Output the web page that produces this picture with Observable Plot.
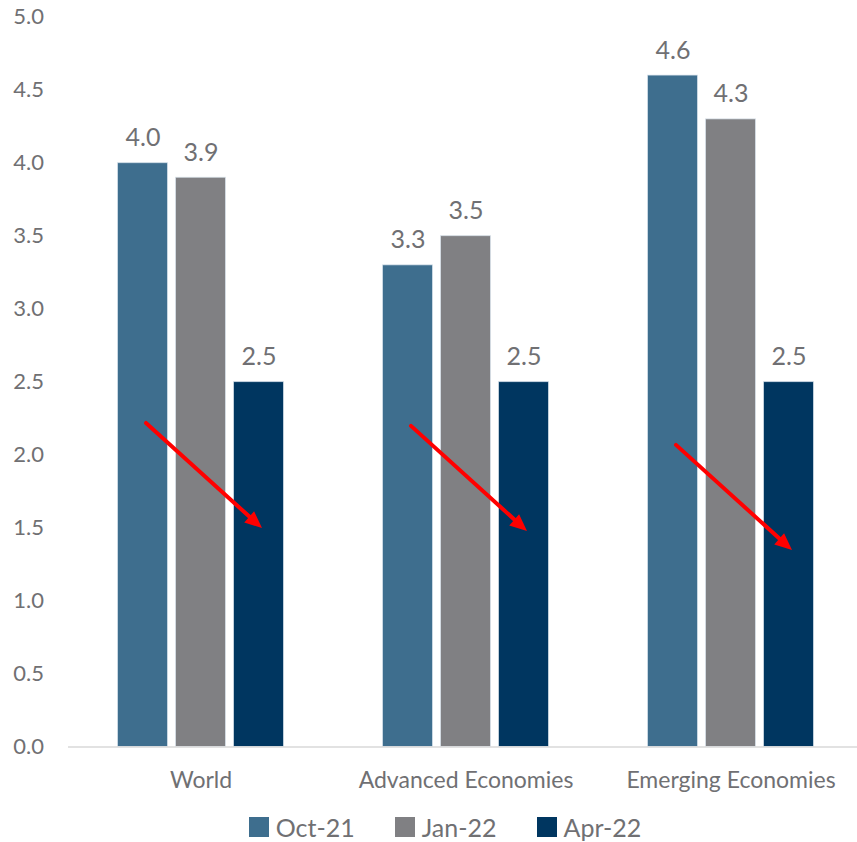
<!DOCTYPE html>
<html>
<head>
<meta charset="utf-8">
<script src="https://cdn.jsdelivr.net/npm/d3@7"></script>
<script src="https://cdn.jsdelivr.net/npm/@observablehq/plot@0.6"></script>
<style>
  html, body { margin: 0; padding: 0; background: #fff; overflow: hidden; }
  body { width: 857px; height: 842px; font-family: Lato, "Open Sans", sans-serif; }
  #legend { display: flex; justify-content: center; align-items: center; margin-top: 8px; padding-left: 33px; height: 28px; color: #707073; font-size: 25px; }
  .item { display: flex; align-items: center; margin: 0 20px; }
  .sw { width: 20px; height: 20px; margin-right: 7px; }
</style>
</head>
<body>
<div id="chart"></div>
<div id="legend"></div>
<script>
const groups = ["World", "Advanced Economies", "Emerging Economies"];
const series = ["Oct-21", "Jan-22", "Apr-22"];
const oct21 = [4.0, 3.3, 4.6];
const jan22 = [3.9, 3.5, 4.3];
const apr22 = [2.5, 2.5, 2.5];
const colors = ["#3E6E8E", "#808083", "#003660"];
const arrowFrom = [2.22, 2.20, 2.07];
const arrowTo = [1.50, 1.48, 1.35];
const yTicks = [0, 0.5, 1, 1.5, 2, 2.5, 3, 3.5, 4, 4.5, 5];

const seriesValues = [oct21, jan22, apr22];
const data = [];
groups.forEach((g, gi) => series.forEach((s, si) => data.push({group: g, series: s, value: seriesValues[si][gi]})));
const arrows = groups.map((g, i) => ({group: g, from: arrowFrom[i], to: arrowTo[i]}));

const textColor = "#707073";
const chart = Plot.plot({
  width: 857,
  height: 805,
  marginTop: 16.7,
  marginBottom: 58.5,
  marginLeft: 67.5,
  marginRight: 0,
  style: {fontFamily: "Lato, 'Open Sans', sans-serif", color: textColor, background: "#fff"},
  fx: {domain: groups, padding: 0, range: [67.5, 862.5], label: null},
  x: {domain: series, paddingInner: 0.14, paddingOuter: 0.854, axis: null},
  y: {domain: [0, 5], label: null},
  color: {domain: series, range: colors},
  marks: [
    Plot.axisY({ticks: yTicks, tickFormat: d => d.toFixed(1), tickSize: 0, tickPadding: 24.5, fontSize: 22, fill: textColor, label: null}),
    Plot.axisFx({anchor: "bottom", tickSize: 0, tickPadding: 25, fontSize: 23, fill: textColor, label: null}),
    Plot.barY(data, {fx: "group", x: "series", y: "value", fill: "series", stroke: "#dbe5ee", strokeWidth: 1, strokeOpacity: 0.7}),
    Plot.ruleY([0], {stroke: "#d9d9d9", strokeWidth: 1.5}),
    Plot.text(data, {fx: "group", x: "series", y: "value", text: d => d.value.toFixed(1), dy: -25, fontSize: 25, fill: textColor}),
    Plot.arrow(arrows, {fx: "group", x1: () => series[0], x2: () => series[2], y1: "from", y2: "to", dx: 3, stroke: "#ff0000", strokeWidth: 4, headLength: 0, insetEnd: 10}),
    Plot.vector(arrows, {fx: "group", x: () => series[2], y: "to", dx: 3, length: 17, rotate: 131, shape: "spike", r: 7.5, anchor: "end", fill: "#ff0000", stroke: "none"})
  ]
});
document.getElementById("chart").append(chart);

const legend = document.getElementById("legend");
series.forEach((s, i) => {
  const item = document.createElement("div");
  item.className = "item";
  const sw = document.createElement("div");
  sw.className = "sw";
  sw.style.background = colors[i];
  const label = document.createElement("span");
  label.textContent = s;
  item.append(sw, label);
  legend.append(item);
});
</script>
</body>
</html>
